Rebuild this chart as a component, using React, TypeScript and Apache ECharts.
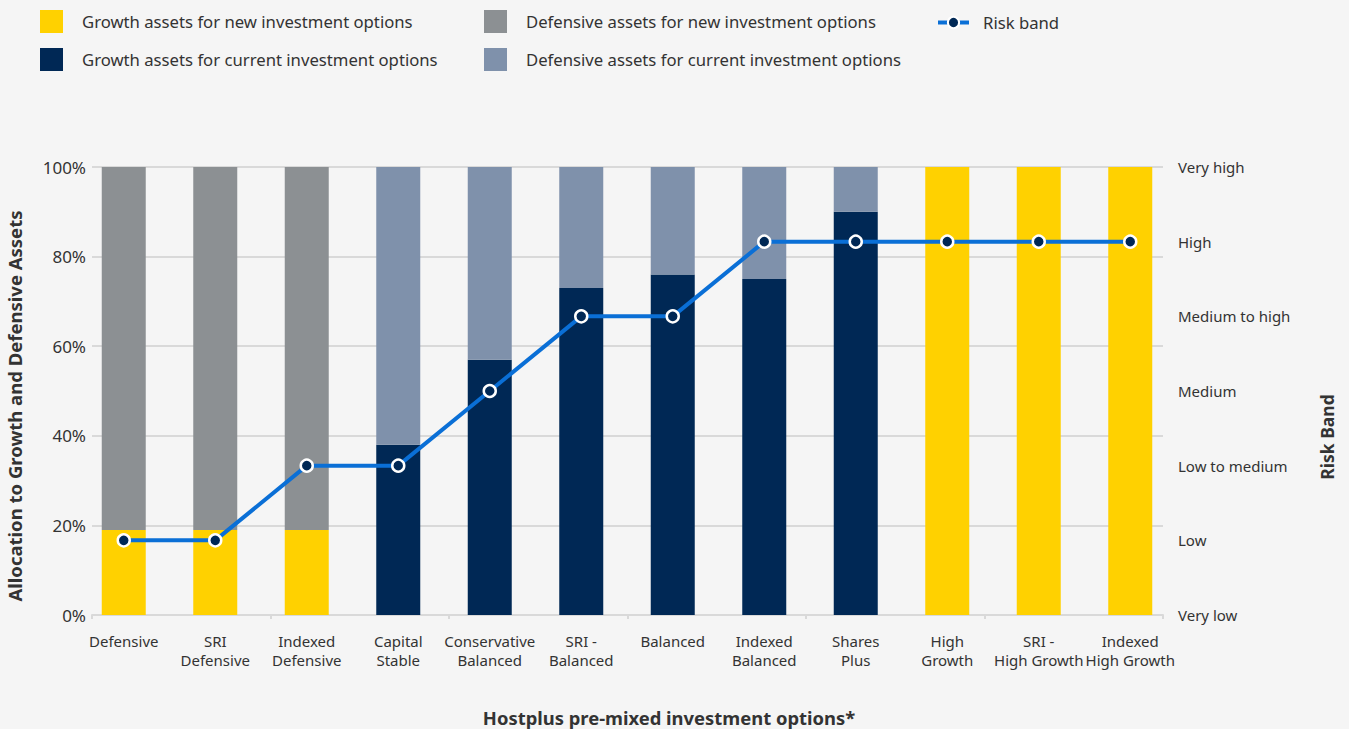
import React, { useEffect, useRef } from 'react';
import * as echarts from 'echarts';

const categories = [
  'Defensive', 'SRI\nDefensive', 'Indexed\nDefensive', 'Capital\nStable', 'Conservative\nBalanced',
  'SRI -\nBalanced', 'Balanced', 'Indexed\nBalanced', 'Shares\nPlus', 'High\nGrowth',
  'SRI -\nHigh Growth', 'Indexed\nHigh Growth',
];
const growthNew = [19, 19, 19, 0, 0, 0, 0, 0, 0, 100, 100, 100];
const growthCurrent = [0, 0, 0, 38, 57, 73, 76, 75, 90, 0, 0, 0];
const defensiveNew = [81, 81, 81, 0, 0, 0, 0, 0, 0, 0, 0, 0];
const defensiveCurrent = [0, 0, 0, 62, 43, 27, 24, 25, 10, 0, 0, 0];
const riskBandLevels = ['Very low', 'Low', 'Low to medium', 'Medium', 'Medium to high', 'High', 'Very high'];
const riskBand = [1, 1, 2, 2, 3, 4, 4, 5, 5, 5, 5, 5];

const FONT = '"Noto Sans", sans-serif';
const TXT = '#333333';
const GRIDC = '#d9d9d9';

export default function App() {
  const ref = useRef<HTMLDivElement>(null);
  useEffect(() => {
    if (!ref.current) return;
    const chart = echarts.init(ref.current, undefined, { renderer: 'svg' });
    const legendText = { fontFamily: FONT, fontSize: 16.7, color: TXT, padding: [0, 0, 0, 14] };
    chart.setOption({
      animation: false,
      backgroundColor: '#f5f5f5',
      textStyle: { fontFamily: FONT },
      legend: [
        {
          orient: 'vertical', left: 40, top: 10, padding: 0, itemWidth: 23, itemHeight: 23, itemGap: 15,
          icon: 'rect', textStyle: legendText,
          data: ['Growth assets for new investment options', 'Growth assets for current investment options'],
        },
        {
          orient: 'vertical', left: 484, top: 10, padding: 0, itemWidth: 23, itemHeight: 23, itemGap: 15,
          icon: 'rect', textStyle: legendText,
          data: ['Defensive assets for new investment options', 'Defensive assets for current investment options'],
        },
        {
          orient: 'vertical', left: 936, top: 14, padding: 0, itemWidth: 31, itemHeight: 14, itemGap: 15,
          textStyle: { ...legendText, padding: [0, 0, 0, 9] },
          lineStyle: { width: 4, color: '#0a6fd6' },
          data: ['Risk band'],
        },
      ],
      grid: [
        { left: 78, right: 173, top: 167, bottom: 114 },
        { left: 92, right: 186, top: 167, bottom: 114 },
      ],
      xAxis: [
        {
          type: 'category', gridIndex: 0, data: categories,
          axisLine: { show: false }, axisTick: { show: false },
          axisLabel: { color: TXT, fontSize: 15, lineHeight: 19, margin: 16, fontFamily: FONT, interval: 0 },
        },
        {
          type: 'category', gridIndex: 1, data: categories,
          axisLine: { show: true, lineStyle: { color: GRIDC, width: 2 } },
          axisTick: { show: true, length: 4, lineStyle: { color: GRIDC, width: 2 } },
          axisLabel: { show: false },
        },
      ],
      yAxis: [
        { type: 'value', gridIndex: 0, min: 0, max: 100, show: false },
        { type: 'value', gridIndex: 0, min: 0, max: 6, interval: 1, show: false },
        {
          type: 'value', gridIndex: 1, min: 0, max: 100, interval: 20,
          axisLine: { show: false }, axisTick: { show: false },
          axisLabel: { formatter: '{value}%', color: TXT, fontSize: 17, margin: 6, fontFamily: FONT },
          splitLine: { show: true, lineStyle: { color: GRIDC, width: 2 } },
        },
        {
          type: 'value', gridIndex: 1, position: 'right', min: 0, max: 6, interval: 1,
          axisLine: { show: false }, axisTick: { show: false },
          axisLabel: {
            formatter: (v: number) => riskBandLevels[v] ?? '', color: TXT, fontSize: 15, margin: 15, fontFamily: FONT,
          },
          splitLine: { show: false },
        },
      ],
      series: [
        {
          name: 'Growth assets for new investment options', type: 'bar', stack: 'a', barWidth: 44,
          xAxisIndex: 0, yAxisIndex: 0, data: growthNew, itemStyle: { color: '#ffd100' },
        },
        {
          name: 'Growth assets for current investment options', type: 'bar', stack: 'a', barWidth: 44,
          xAxisIndex: 0, yAxisIndex: 0, data: growthCurrent, itemStyle: { color: '#002855' },
        },
        {
          name: 'Defensive assets for new investment options', type: 'bar', stack: 'a', barWidth: 44,
          xAxisIndex: 0, yAxisIndex: 0, data: defensiveNew, itemStyle: { color: '#8c9093' },
        },
        {
          name: 'Defensive assets for current investment options', type: 'bar', stack: 'a', barWidth: 44,
          xAxisIndex: 0, yAxisIndex: 0, data: defensiveCurrent, itemStyle: { color: '#7f91ab' },
        },
        {
          name: 'Risk band', type: 'line', xAxisIndex: 0, yAxisIndex: 1, data: riskBand,
          symbol: 'circle', symbolSize: 12,
          lineStyle: { color: '#0a6fd6', width: 4 },
          itemStyle: { color: '#002855', borderColor: '#ffffff', borderWidth: 2.5 },
          z: 5,
        },
      ],
      graphic: [
        {
          type: 'text', x: 14, y: 406, rotation: Math.PI / 2,
          style: {
            text: 'Allocation to Growth and Defensive Assets', textAlign: 'center', textVerticalAlign: 'middle',
            font: `bold 18.5px ${FONT}`, fill: TXT,
          },
        },
        {
          type: 'text', x: 1327, y: 437, rotation: Math.PI / 2,
          style: {
            text: 'Risk Band', textAlign: 'center', textVerticalAlign: 'middle',
            font: `bold 17.5px ${FONT}`, fill: TXT,
          },
        },
        {
          type: 'text', x: 669, y: 717,
          style: {
            text: 'Hostplus pre-mixed investment options*', textAlign: 'center', textVerticalAlign: 'middle',
            font: `bold 18.4px ${FONT}`, fill: TXT,
          },
        },
      ],
    });
    return () => chart.dispose();
  }, []);
  return (
    <div
      ref={ref}
      style={{ position: 'fixed', left: 0, top: 0, width: 1349, height: 729, background: '#f5f5f5' }}
    />
  );
}
